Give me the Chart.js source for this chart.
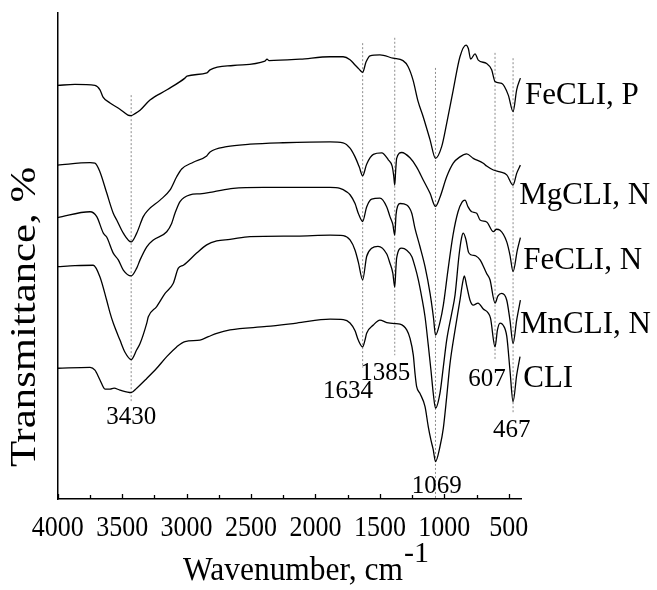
<!DOCTYPE html>
<html>
<head>
<meta charset="utf-8">
<script src="https://cdn.jsdelivr.net/npm/chart.js@4/dist/chart.umd.min.js"></script>
<style>
  html, body { margin: 0; padding: 0; background: #fff; }
  #wrap { width: 657px; height: 590px; position: relative; }
</style>
</head>
<body>
<div id="wrap"><canvas id="c"></canvas></div>
<script>
// FTIR spectra, stacked with offsets: [wavenumber (cm-1), transmittance (a.u.)]
const feCliP = [[4000,85.1],[3866,85.3],[3711,85.1],[3672,84.2],[3648,82.7],[3594,81.5],[3517,80.2],[3455,79.0],[3430,78.9],[3400,79.3],[3361,80.0],[3284,82.1],[3152,84.2],[3013,86.6],[2997,87.0],[2842,87.7],[2818,88.3],[2639,89.2],[2392,90.1],[2376,90.5],[2360,90.2],[2120,90.5],[1887,91.0],[1786,91.0],[1732,90.4],[1693,89.3],[1660,88.4],[1634,87.8],[1608,89.9],[1577,91.2],[1500,91.4],[1399,90.7],[1321,90.2],[1282,89.0],[1243,86.2],[1204,81.8],[1165,78.7],[1111,73.9],[1069,70.1],[1021,72.5],[982,77.3],[931,84.2],[879,91.0],[832,93.4],[814,92.7],[796,90.5],[762,91.6],[737,90.3],[672,89.6],[633,88.3],[607,85.9],[555,85.5],[504,83.1],[467,79.7],[439,84.2],[410,86.6]];

const mgCliN = [[4000,68.7],[3749,69.2],[3711,69.1],[3672,67.3],[3620,63.0],[3569,58.8],[3542,57.4],[3491,54.7],[3430,52.9],[3387,54.7],[3336,58.1],[3297,59.5],[3206,61.5],[3128,63.6],[3077,66.3],[3038,67.9],[2948,69.3],[2844,70.6],[2818,71.4],[2689,72.5],[2508,73.0],[2252,73.3],[1887,73.5],[1786,73.3],[1732,72.2],[1693,70.4],[1660,68.3],[1634,66.5],[1603,68.9],[1551,70.9],[1486,71.2],[1435,69.8],[1405,68.5],[1393,66.5],[1385,64.6],[1378,67.5],[1370,70.1],[1331,71.3],[1267,70.2],[1215,68.3],[1163,65.6],[1111,62.9],[1069,60.2],[1034,62.1],[982,66.3],[931,69.1],[879,70.4],[827,71.0],[776,70.1],[698,69.1],[672,68.5],[620,67.7],[568,67.3],[516,66.7],[467,64.6],[439,67.0],[410,68.7]];

const feCliN = [[4000,57.9],[3749,59.1],[3697,58.1],[3646,54.7],[3620,53.9],[3569,50.6],[3530,49.2],[3491,47.1],[3430,45.9],[3387,47.5],[3361,49.2],[3309,51.9],[3258,53.3],[3154,55.0],[3116,56.7],[3090,58.8],[3051,61.2],[2974,62.6],[2896,62.8],[2793,63.2],[2638,63.9],[2405,64.1],[1887,64.1],[1810,63.9],[1758,63.2],[1732,62.6],[1693,60.8],[1668,58.8],[1634,57.1],[1603,60.1],[1564,61.7],[1500,61.9],[1447,60.1],[1422,58.1],[1400,56.5],[1385,54.3],[1375,58.5],[1362,60.3],[1344,60.8],[1292,60.5],[1253,58.8],[1228,55.7],[1189,51.9],[1150,47.8],[1111,42.3],[1084,37.2],[1069,33.7],[1034,36.4],[1008,39.9],[972,47.1],[933,54.3],[894,59.1],[863,61.1],[840,61.5],[816,60.1],[788,59.1],[749,58.8],[723,57.4],[672,57.0],[620,55.0],[596,55.5],[568,55.3],[516,52.9],[491,50.2],[467,46.8],[434,51.2],[410,53.8]];

const mnCliN = [[4000,47.8],[3866,48.0],[3724,48.1],[3672,45.7],[3620,40.9],[3594,38.3],[3569,36.2],[3517,32.7],[3478,30.2],[3430,28.7],[3387,30.7],[3361,32.0],[3309,36.2],[3297,37.5],[3232,39.6],[3167,42.3],[3103,44.4],[3064,47.5],[3025,48.1],[2922,50.6],[2844,52.3],[2766,53.1],[2663,53.4],[2508,54.0],[2146,54.1],[1887,54.3],[1784,54.2],[1732,53.3],[1693,51.2],[1668,48.8],[1634,45.1],[1603,49.9],[1564,51.6],[1515,52.0],[1447,50.4],[1422,48.5],[1400,46.5],[1385,43.6],[1376,47.5],[1370,49.6],[1331,51.6],[1292,51.2],[1253,49.9],[1228,47.8],[1202,45.1],[1176,41.6],[1150,37.5],[1125,31.7],[1104,26.5],[1086,21.7],[1069,18.7],[1034,21.8],[1008,27.2],[982,32.7],[943,38.2],[917,42.0],[886,50.2],[867,53.7],[853,54.7],[832,53.3],[813,50.8],[788,50.2],[755,50.0],[723,49.2],[672,46.4],[646,45.1],[607,40.3],[584,41.8],[555,42.3],[516,40.9],[491,36.8],[467,32.0],[439,36.8],[410,40.9]];

const cli = [[4000,26.9],[3749,27.1],[3711,26.5],[3672,24.5],[3633,22.6],[3594,22.6],[3563,22.8],[3517,22.4],[3430,21.9],[3387,22.8],[3309,24.8],[3232,26.9],[3154,29.3],[3077,31.3],[3012,32.4],[2896,32.7],[2831,33.4],[2766,34.1],[2663,34.8],[2378,35.5],[2146,36.2],[1887,37.0],[1784,36.9],[1732,36.2],[1693,34.6],[1668,32.7],[1634,31.3],[1616,32.7],[1603,34.1],[1551,35.8],[1500,36.8],[1447,36.3],[1385,36.1],[1344,36.0],[1292,34.8],[1267,33.1],[1241,29.6],[1228,25.9],[1215,23.1],[1189,21.7],[1150,19.0],[1125,14.9],[1104,12.1],[1086,10.1],[1069,7.7],[1034,10.8],[1008,14.6],[982,21.0],[956,27.9],[917,34.8],[879,40.9],[859,44.4],[845,45.9],[828,44.0],[801,40.9],[776,39.9],[739,40.3],[698,39.1],[661,38.3],[642,37.2],[607,31.3],[588,34.8],[568,36.2],[545,35.8],[516,33.5],[491,26.5],[467,20.0],[439,25.5],[413,29.3]];

const seriesNames = ['FeCLI, P', 'MgCLI, N', 'FeCLI, N', 'MnCLI, N', 'CLI'];
const seriesData = [feCliP, mgCliN, feCliN, mnCliN, cli];

// Marked band positions (cm-1) and the span of each dotted guide (transmittance units)
const peakPositions = [3430, 1634, 1385, 1069, 607, 467];
const guideTop = [83.1, 93.8, 94.9, 88.7, 91.8, 90.7];
const guideBottom = [20.0, 27.0, 29.6, 0, 28.6, 17.7];

const xTickLabels = [4000, 3500, 3000, 2500, 2000, 1500, 1000, 500];
const xMinorTicks = [3750, 3250, 2750, 2250, 1750, 1250, 750];

// Where the texts sit, in axis units: [wavenumber, transmittance]
const peakLabelAnchor = [[3430, 15.4], [1748, 20.7], [1458, 24.5], [1059, 1.2], [669, 23.3], [478, 12.8]];
const seriesLabelAnchor = [[374, 81.3], [419, 60.7], [388, 47.3], [413, 34.2], [388, 23.0]];

const SERIF = '"Liberation Serif", "Times New Roman", Times, serif';

// Draws text with optional horizontal fit to a width and vertical stretch
function drawText(ctx, text, x, y, size, align, targetWidth, sy) {
  ctx.font = size + 'px ' + SERIF;
  ctx.textAlign = 'left';
  ctx.textBaseline = 'alphabetic';
  const w = ctx.measureText(text).width;
  const sx = targetWidth ? targetWidth / w : 1;
  const dw = w * sx;
  const left = align === 'center' ? x - dw / 2 : (align === 'right' ? x - dw : x);
  ctx.save();
  ctx.translate(left, y);
  ctx.scale(sx, sy || 1);
  ctx.fillText(text, 0, 0);
  ctx.restore();
}

const annotate = {
  id: 'annotate',
  afterDraw(chart) {
    const { ctx, chartArea, scales: { x, y } } = chart;
    const bottom = chartArea.bottom;
    ctx.save();
    ctx.fillStyle = '#000';
    ctx.strokeStyle = '#000';
    ctx.lineWidth = 1.3;

    // inward tick marks on the wavenumber axis
    ctx.beginPath();
    xTickLabels.forEach(v => { const px = Math.round(x.getPixelForValue(v)) + 0.5; ctx.moveTo(px, bottom); ctx.lineTo(px, bottom - 5); });
    xMinorTicks.forEach(v => { const px = Math.round(x.getPixelForValue(v)) + 0.5; ctx.moveTo(px, bottom); ctx.lineTo(px, bottom - 4); });
    ctx.stroke();

    // tick labels
    xTickLabels.forEach(v => drawText(ctx, String(v), x.getPixelForValue(v), bottom + 37, 26, 'center', null, 1.15));

    // band labels
    peakPositions.forEach((p, i) => {
      const a = peakLabelAnchor[i];
      drawText(ctx, String(p), x.getPixelForValue(a[0]), y.getPixelForValue(a[1]), 25, 'center');
    });

    // sample names
    seriesNames.forEach((n, i) => {
      const a = seriesLabelAnchor[i];
      drawText(ctx, n, x.getPixelForValue(a[0]), y.getPixelForValue(a[1]), 31, 'left');
    });

    // axis titles
    drawText(ctx, 'Wavenumber, cm', 183, 580, 33, 'left', 220);
    drawText(ctx, '-1', 404, 562, 30, 'left');

    ctx.save();
    ctx.translate(35, 317);
    ctx.rotate(-Math.PI / 2);
    drawText(ctx, 'Transmittance, %', 0, 0, 35, 'center', 300);
    ctx.restore();

    ctx.restore();
  }
};

const datasets = seriesData.map((s, i) => ({
  label: seriesNames[i],
  data: s.map(p => ({ x: p[0], y: p[1] })),
  borderColor: '#000',
  borderWidth: 1.3,
  pointRadius: 0,
  fill: false,
  cubicInterpolationMode: 'monotone',
  order: 0
}));

peakPositions.forEach((p, i) => {
  datasets.push({
    label: 'guide ' + p,
    data: [{ x: p, y: guideTop[i] }, { x: p, y: guideBottom[i] }],
    borderColor: '#8c8c8c',
    borderWidth: 1,
    borderDash: [2, 2],
    pointRadius: 0,
    fill: false,
    order: 1
  });
});

new Chart(document.getElementById('c'), {
  type: 'line',
  data: { datasets },
  options: {
    responsive: true,
    maintainAspectRatio: false,
    devicePixelRatio: 1,
    animation: false,
    events: [],
    layout: { padding: { top: 13, right: 135.3, left: 0, bottom: 0 } },
    plugins: { legend: { display: false }, tooltip: { enabled: false }, title: { display: false } },
    scales: {
      x: {
        type: 'linear',
        reverse: true,
        min: 400,
        max: 4000,
        grid: { display: false },
        border: { display: true, color: '#000', width: 1.5 },
        ticks: { display: false },
        afterFit(scale) { scale.height = 91; }
      },
      y: {
        type: 'linear',
        min: 0,
        max: 100,
        grid: { display: false },
        border: { display: true, color: '#000', width: 1.5 },
        ticks: { display: false },
        afterFit(scale) { scale.width = 57.7; }
      }
    }
  },
  plugins: [annotate]
});
</script>
</body>
</html>
